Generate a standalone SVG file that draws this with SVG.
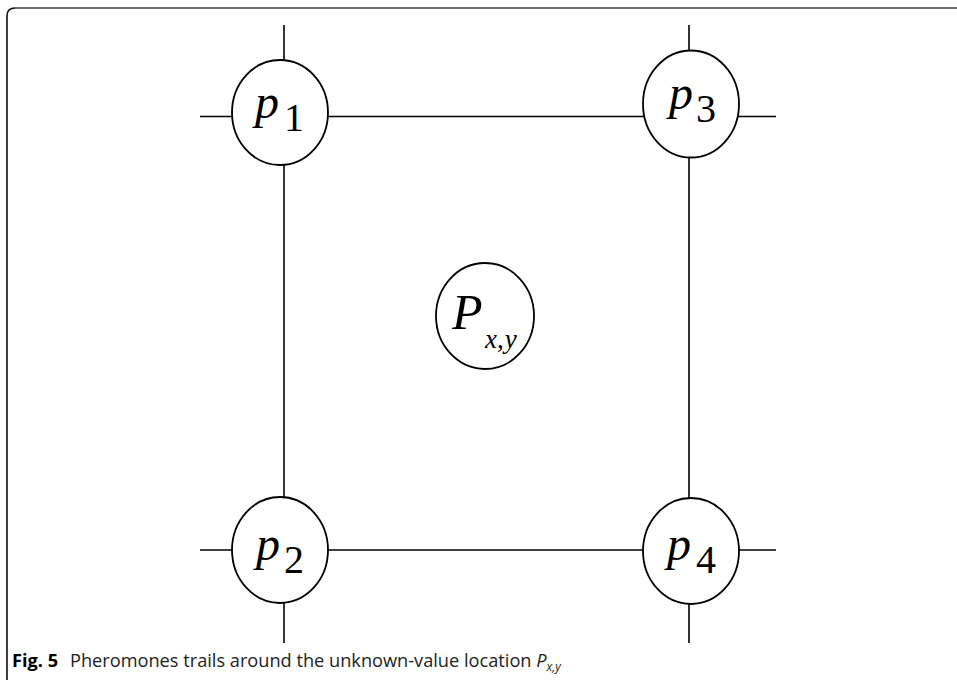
<svg xmlns="http://www.w3.org/2000/svg" width="957" height="680" viewBox="0 0 957 680">
<style>
.ln{stroke:#000;stroke-width:1.6;fill:none}
.nd{fill:#fff;stroke:#000;stroke-width:1.8}
.mi{font-family:"Liberation Serif","Times New Roman",serif;font-style:italic;fill:#000}
.mr{font-family:"Liberation Serif","Times New Roman",serif;fill:#000}
.cap{font-family:"Open Sans","Noto Sans",sans-serif;font-size:18.2px;fill:#222}
</style>
<rect width="957" height="680" fill="#fff"/>
<g id="frame">
<path d="M7,680 V16 Q7,8 15,8" stroke="#111" stroke-width="1.6" fill="none"/>
<path d="M15,8 H957" stroke="#6e6e6e" stroke-width="2" fill="none"/>
</g>
<g id="connectors">
<line class="ln" x1="284" y1="25" x2="284" y2="643"/>
<line class="ln" x1="689" y1="25" x2="689" y2="643"/>
<line class="ln" x1="200" y1="116.5" x2="776" y2="116.5"/>
<line class="ln" x1="200" y1="550" x2="776" y2="550"/>
</g>
<g id="p1">
<ellipse class="nd" cx="280" cy="112.5" rx="48" ry="52.5"/>
<text class="mi" x="255" y="118" font-size="48">p</text>
<text class="mr" x="284" y="131" font-size="40">1</text>
</g>
<g id="p3">
<ellipse class="nd" cx="691" cy="104" rx="48" ry="53.5"/>
<text class="mi" x="669" y="109" font-size="48">p</text>
<text class="mr" x="696" y="122" font-size="40">3</text>
</g>
<g id="p2">
<ellipse class="nd" cx="280" cy="550" rx="48" ry="53"/>
<text class="mi" x="256" y="560" font-size="48">p</text>
<text class="mr" x="284" y="573" font-size="40">2</text>
</g>
<g id="p4">
<ellipse class="nd" cx="691" cy="551" rx="48" ry="53"/>
<text class="mi" x="667" y="560" font-size="48">p</text>
<text class="mr" x="696" y="573" font-size="40">4</text>
</g>
<g id="pxy">
<ellipse class="nd" cx="485" cy="316" rx="49" ry="53"/>
<text class="mi" x="452" y="329" font-size="50">P</text>
<text class="mi" x="485" y="348" font-size="27">x<tspan class="mr" font-style="normal">,</tspan><tspan dx="1">y</tspan></text>
</g>
<g id="caption">
<text class="cap" x="12" y="667"><tspan font-weight="bold" fill="#000">Fig. 5</tspan><tspan x="70">Pheromones trails around the unknown-value location </tspan><tspan font-style="italic">P</tspan><tspan font-style="italic" font-size="12" dy="4">x,y</tspan></text>
</g>
</svg>
